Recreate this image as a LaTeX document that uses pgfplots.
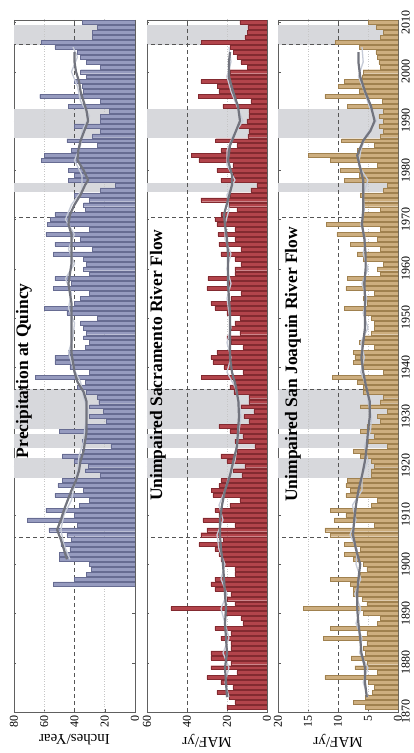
\documentclass[border=0pt]{standalone}
\usepackage{fontspec}
\setmainfont{Liberation Serif}
\usepackage{pgfplots}
\pgfplotsset{compat=1.18}
\usepackage{pgfplotstable}

\definecolor{pblue}{HTML}{969BBF}
\definecolor{pblueD}{HTML}{676C92}
\definecolor{sred}{HTML}{B2444B}
\definecolor{sredD}{HTML}{832A30}
\definecolor{stan}{HTML}{CDAE7F}
\definecolor{stanD}{HTML}{A0814F}
\definecolor{bandc}{HTML}{D7D8DC}
\definecolor{avgD}{HTML}{72747E}
\definecolor{avgL}{HTML}{C6CBD7}
\definecolor{dashc}{HTML}{555555}

\pgfplotstableread{
yr v
1896 54
1897 40
1898 32
1899 29
1900 30
1901 50
1902 50
1903 43
1904 49
1905 42
1906 45
1907 57
1908 38
1909 71
1910 40
1911 59
1912 37
1913 30
1914 53
1915 34
1916 51
1917 48
1918 23
1919 33
1920 31
1921 40
1922 48
1923 35
1924 16
1925 35
1926 33
1927 50
1928 33
1929 19
1930 30
1931 21
1932 30
1933 24
1934 25
1935 32
1936 38
1937 33
1938 66
1939 30
1940 43
1941 53
1942 53
1943 44
1944 33
1945 30
1946 34
1947 32
1948 34
1949 36
1950 25
1951 45
1952 60
1953 40
1954 36
1955 30
1956 54
1957 42
1958 53
1959 30
1960 34
1961 32
1962 34
1963 54
1964 28
1965 53
1966 36
1967 59
1968 30
1969 58
1970 56
1971 53
1972 33
1973 34
1974 30
1975 40
1976 23
1977 13
1978 44
1979 40
1980 44
1981 36
1982 62
1983 60
1984 42
1985 25
1986 45
1987 28
1988 23
1989 40
1990 23
1991 23
1992 17
1993 44
1994 23
1995 63
1996 34
1997 35
1998 40
1999 32
2000 36
2001 23
2002 32
2003 36
2004 38
2005 53
2006 62
2007 28
2008 28
2009 25
2010 35
}\precip

\pgfplotstableread{
yr v
1871 20
1872 16
1873 19
1874 25
1875 17
1876 23
1877 30
1878 15
1879 28
1880 18
1881 28
1882 28
1883 18
1884 18
1885 23
1886 18
1887 26
1888 12
1889 13
1890 21
1891 48
1892 16
1893 20
1894 18
1895 26
1896 28
1897 26
1898 16
1899 16
1900 22
1901 23
1902 24
1903 26
1904 34
1905 22
1906 33
1907 30
1908 16
1909 32
1910 24
1911 26
1912 18.5
1913 13.5
1914 27
1915 27.7
1916 24
1917 23
1918 12.5
1919 16.7
1920 11
1921 20
1922 23
1923 15
1924 6
1925 16
1926 12
1927 18.5
1928 24
1929 9
1930 11.5
1931 6.5
1932 13
1933 9
1934 9
1935 16.5
1936 18.5
1937 16
1938 32.7
1939 12
1940 21.5
1941 27
1942 28
1943 25
1944 12
1945 18
1946 20
1947 13.5
1948 18
1949 16
1950 13.5
1951 20
1952 26
1953 28
1954 18
1955 13
1956 30
1957 19
1958 29.5
1959 16
1960 16
1961 13
1962 16
1963 23
1964 13
1965 24
1966 16
1967 24.5
1968 16
1969 25
1970 26
1971 23
1972 15
1973 19
1974 33
1975 18.5
1976 8
1977 5.1
1978 23
1979 17
1980 25
1981 17
1982 34
1983 37.7
1984 23
1985 15
1986 25.7
1987 9.5
1988 9
1989 14
1990 10
1991 9
1992 9
1993 22
1994 8
1995 34.3
1996 24
1997 24.8
1998 33
1999 20
2000 18.5
2001 9.7
2002 13
2003 15
2004 16.8
2005 18.5
2006 32.7
2007 11
2008 9.8
2009 9.5
2010 13.5
}\sac

\pgfplotstableread{
yr v
1871 5.5
1872 7.5
1873 5.5
1874 4.3
1875 4
1876 5
1877 12.2
1878 3.5
1879 7.2
1880 5.2
1881 7.8
1882 5.5
1883 5.8
1884 5.2
1885 12.5
1886 5.2
1887 11.3
1888 3.5
1889 3
1890 5.8
1891 15.8
1892 5.2
1893 6
1894 7.5
1895 7.5
1896 8
1897 11.3
1898 6.3
1899 5.2
1900 5.8
1901 7.5
1902 9
1903 6.3
1904 9
1905 7.5
1906 11.3
1907 12.2
1908 3.9
1909 10.6
1910 8.7
1911 11.3
1912 4.5
1913 3.5
1914 8.7
1915 8
1916 8.7
1917 8.4
1918 4.5
1919 4.5
1920 3.9
1921 4.5
1922 6.3
1923 7.5
1924 1.8
1925 5
1926 3.9
1927 6.3
1928 5.2
1929 3
1930 3.5
1931 1.8
1932 6.3
1933 3
1934 2.5
1935 5.8
1936 5.8
1937 6.8
1938 11
1939 2.5
1940 5.8
1941 7.5
1942 7.2
1943 7.5
1944 3.9
1945 6.5
1946 5.8
1947 4.5
1948 3.9
1949 3.9
1950 4.5
1951 5.8
1952 9
1953 5.2
1954 5.8
1955 3.9
1956 8.7
1957 5.8
1958 8.4
1959 3
1960 3.5
1961 2.5
1962 5.8
1963 6.8
1964 3
1965 8
1966 3.5
1967 10.2
1968 3
1969 12
1970 6
1971 5.8
1972 3
1973 6
1974 6
1975 6.3
1976 2.4
1977 1.8
1978 9
1979 6.5
1980 9.7
1981 3.5
1982 11.3
1983 15
1984 6.8
1985 3.9
1986 9.4
1987 2.9
1988 2.4
1989 3.2
1990 2.4
1991 3.2
1992 2.4
1993 8.4
1994 2.6
1995 12.2
1996 6.5
1997 10
1998 9
1999 6
2000 5.8
2001 2.9
2002 3.2
2003 3.5
2004 3.7
2005 6.5
2006 10.5
2007 2.9
2008 2.5
2009 3.6
2010 4.9
}\sj

\pgfplotsset{
 panel/.style={
  scale only axis, height=692pt,
  anchor=south west,
  x dir=reverse,
  ymin=1870, ymax=2010.5,
  xmin=0,
  axis line style={draw=gray!75!black, line width=0.6pt},
  ytick={1870,1880,...,2010},
  tick style={gray!70!black, line width=0.4pt},
  major tick length=2.5pt,
  tick align=inside,
  /pgf/number format/assume math mode=true,
  xticklabel style={rotate=90, anchor=east, font=\fontsize{12}{12}\selectfont},
  yticklabel style={rotate=90, anchor=north, font=\fontsize{12}{12}\selectfont, /pgf/number format/1000 sep={}},
  xlabel style={rotate=180, anchor=south, font=\fontsize{15}{15}\selectfont},
 },
 bandstyle/.style={fill=bandc, draw=none, forget plot},
 hd/.style={dashc, line width=0.7pt, dash pattern=on 4pt off 3pt, forget plot},
 dotg/.style={gray!45, line width=0.5pt, dotted, forget plot},
 avgdark/.style={avgD, line width=2.2pt, line join=round, forget plot},
 avglight/.style={avgL, line width=1.3pt, line join=round, forget plot},
 barsty/.style={xbar, bar width=0.8, bar shift=0pt, line width=0.3pt, forget plot},
}

\newcommand{\bands}[1]{%
 \addplot[bandstyle] coordinates {(0,1917.5) (#1,1917.5) (#1,1921.5) (0,1921.5)} -- cycle;
 \addplot[bandstyle] coordinates {(0,1923.5) (#1,1923.5) (#1,1926.5) (0,1926.5)} -- cycle;
 \addplot[bandstyle] coordinates {(0,1927.5) (#1,1927.5) (#1,1935.5) (0,1935.5)} -- cycle;
 \addplot[bandstyle] coordinates {(0,1975.5) (#1,1975.5) (#1,1977.5) (0,1977.5)} -- cycle;
 \addplot[bandstyle] coordinates {(0,1986.5) (#1,1986.5) (#1,1992.5) (0,1992.5)} -- cycle;
 \addplot[bandstyle] coordinates {(0,2005.5) (#1,2005.5) (#1,2009.5) (0,2009.5)} -- cycle;
}
\newcommand{\hdashes}[1]{%
 \addplot[hd] coordinates {(0,1905.5) (#1,1905.5)};
 \addplot[hd] coordinates {(0,1935.5) (#1,1935.5)};
 \addplot[hd] coordinates {(0,1970.5) (#1,1970.5)};
 \addplot[hd] coordinates {(0,2005.5) (#1,2005.5)};
}

\begin{document}
\begin{tikzpicture}
\useasboundingbox (0pt,0pt) rectangle (414pt,753pt);

% ---------------- Precipitation at Quincy ----------------
\begin{axis}[panel, at={(14pt,41pt)}, width=121pt, xmax=80,
  xtick={0,20,40,60,80}, yticklabels={}, xlabel={Inches/Year}]
\bands{80}
\addplot[dotg] coordinates {(20,1870) (20,2011)};
\addplot[dotg] coordinates {(60,1870) (60,2011)};
\addplot[hd] coordinates {(40,1870) (40,2011)};
\hdashes{80}
\addplot[barsty, fill=pblue, draw=pblueD] table[x=v, y=yr] {\precip};
\addplot[avglight] coordinates {(43,1901) (47,1904) (49,1907) (47,1910) (42,1913) (40,1916) (38,1919) (37,1922) (34,1925) (33,1928) (31,1931) (34,1934) (36,1937) (41,1940) (44,1943) (41,1946) (40,1949) (44,1952) (42,1955) (46,1958) (40,1961) (44,1964) (40,1967) (46,1970) (42,1973) (35,1976) (35,1979) (40,1982) (36,1985) (35,1988) (30,1991) (36,1994) (38,1997) (42,2000) (38,2003) (41,2005)};
\addplot[avgdark] coordinates {(45,1901) (47,1903) (49,1905) (51.5,1907) (49,1909) (47,1911) (44.5,1913) (42,1915) (39,1917) (37,1919) (36,1921) (34,1923) (33,1925) (32,1927) (32,1929) (32,1931) (32,1933) (34,1935) (38,1937) (40,1939) (41,1941) (42,1943) (42,1945) (42,1947) (42,1949) (42,1951) (42,1953) (43,1955) (44,1957) (43,1959) (42,1961) (42,1963) (42,1965) (42,1967) (44,1969) (43,1971) (40,1973) (36,1975) (33,1977) (31,1978) (34,1980) (38,1982) (37.5,1984) (36,1986) (33.5,1988) (31,1990) (32,1992) (34,1994) (36,1996) (37,1998) (39,2000) (40,2002) (40,2004)};
\node[rotate=90, font=\fontsize{17.5}{17.5}\selectfont\bfseries] at (axis cs:73.4,1939.3) {Precipitation at Quincy};
\end{axis}

% ---------------- Sacramento ----------------
\begin{axis}[panel, at={(147pt,41pt)}, width=120pt, xmax=60,
  xtick={0,20,40,60}, yticklabels={}, xlabel={MAF/yr}]
\bands{60}
\addplot[dotg] coordinates {(20,1870) (20,2011)};
\addplot[hd] coordinates {(40,1870) (40,2011)};
\hdashes{60}
\addplot[barsty, fill=sred, draw=sredD] table[x=v, y=yr] {\sac};
\addplot[avglight] coordinates {(19,1873) (21,1876) (19,1879) (22,1882) (19,1885) (21,1888) (23,1891) (20,1894) (23,1897) (21,1900) (24,1903) (25,1906) (22,1909) (24,1912) (21,1915) (19,1918) (16,1921) (15,1924) (14,1927) (13,1930) (14,1933) (16,1936) (20,1939) (18,1942) (20,1945) (18,1948) (19,1951) (20,1954) (18,1957) (20,1960) (18,1963) (21,1966) (21,1969) (19,1972) (20,1975) (16,1978) (20,1981) (20,1984) (17,1987) (12,1990) (15,1993) (18,1996) (20,1999) (18,2002) (19,2005)};
\addplot[avgdark] coordinates {(20,1873) (20.5,1876) (21,1879) (20,1882) (20.5,1885) (21,1888) (20.5,1891) (21,1894) (21.5,1897) (22,1900) (23,1903) (23.5,1906) (23.5,1909) (22.5,1912) (21,1915) (18.5,1918) (16.8,1921) (15,1924) (14.5,1927) (14,1930) (14.3,1933) (15.5,1936) (17.5,1939) (18.5,1942) (18.5,1945) (18.5,1948) (18.5,1951) (19,1954) (19.5,1957) (19.5,1960) (19.5,1963) (20,1966) (21,1969) (21.5,1971) (19.5,1974) (17.5,1977) (17.5,1979) (19.5,1982) (18.5,1985) (15.5,1988) (13.5,1990) (14.5,1993) (17,1996) (19,1999) (19,2002) (18.5,2004)};
\node[rotate=90, font=\fontsize{17.5}{17.5}\selectfont\bfseries] at (axis cs:54.5,1940.4) {Unimpaired Sacramento River Flow};
\end{axis}

% ---------------- San Joaquin ----------------
\begin{axis}[panel, at={(278pt,41pt)}, width=120pt, xmax=20,
  xtick={0,5,10,15,20}, yticklabel pos=right, xlabel={MAF/yr}]
\bands{20}
\addplot[dotg] coordinates {(5,1870) (5,2011)};
\addplot[dotg] coordinates {(15,1870) (15,2011)};
\addplot[hd] coordinates {(10,1870) (10,2011)};
\hdashes{20}
\addplot[barsty, fill=stan, draw=stanD] table[x=v, y=yr] {\sj};
\addplot[avglight] coordinates {(5,1873) (5.8,1876) (5,1879) (6.4,1882) (6,1885) (7,1888) (6.2,1891) (7.2,1894) (6.2,1897) (7,1900) (6.8,1903) (8,1906) (7,1909) (7.6,1912) (6,1915) (6,1918) (5,1921) (5.6,1924) (4.6,1927) (4.4,1930) (5,1933) (5.2,1936) (6.2,1939) (5.6,1942) (6.2,1945) (5,1948) (5.8,1951) (5.2,1954) (6,1957) (5,1960) (5.8,1963) (5.4,1966) (6.2,1969) (5.6,1972) (5.8,1975) (5,1978) (6.6,1981) (6.2,1984) (5.4,1987) (3.6,1990) (4.8,1993) (5.6,1996) (6.6,1999) (5.8,2002) (6,2005)};
\addplot[avgdark] coordinates {(5.2,1873) (5.5,1876) (5.5,1879) (6.1,1882) (6.3,1885) (6.6,1888) (6.8,1891) (6.8,1894) (6.6,1897) (6.3,1900) (7,1903) (7.5,1906) (7.3,1909) (7,1912) (6.6,1915) (6,1918) (5.5,1921) (5.2,1924) (5,1927) (4.7,1930) (4.7,1933) (5.3,1936) (5.8,1939) (6.1,1942) (5.8,1945) (5.5,1948) (5.5,1951) (5.5,1954) (5.6,1957) (5.4,1960) (5.4,1963) (5.6,1966) (6,1969) (5.8,1972) (5.8,1975) (5.8,1978) (6.4,1981) (6.8,1983) (5.8,1986) (4.6,1988) (3.9,1990) (4.5,1993) (5.5,1996) (6.3,1999) (6.6,2002) (6.6,2004)};
\node[rotate=90, font=\fontsize{17.5}{17.5}\selectfont\bfseries] at (axis cs:17.5,1940.6) {Unimpaired San Joaquin River Flow};
\end{axis}
\end{tikzpicture}
\end{document}
